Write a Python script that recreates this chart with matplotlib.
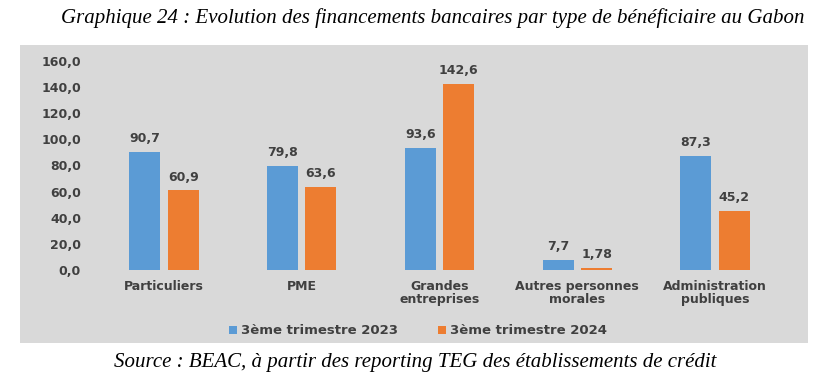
import matplotlib.pyplot as plt
from matplotlib.patches import Rectangle
import numpy as np

# Data
categories = ['Particuliers', 'PME', 'Grandes\nentreprises', 'Autres personnes\nmorales',
              'Administration\npubliques']
t3_2023 = [90.7, 79.8, 93.6, 7.7, 87.3]
t3_2024 = [60.9, 63.6, 142.6, 1.78, 45.2]
labels_2023 = ['90,7', '79,8', '93,6', '7,7', '87,3']
labels_2024 = ['60,9', '63,6', '142,6', '1,78', '45,2']
yticks = [0, 20, 40, 60, 80, 100, 120, 140, 160]

BLUE = '#5B9BD5'
ORANGE = '#ED7D31'
TXT = '#404040'
FONT = 'DejaVu Sans'

fig = plt.figure(figsize=(8.27, 3.72), dpi=100)
fig.patch.set_facecolor('white')

# grey chart area
fig.patches.append(Rectangle((20 / 827, 1 - 343 / 372), 788 / 827, 298 / 372,
                             transform=fig.transFigure, facecolor='#d9d9d9',
                             edgecolor='none', zorder=-10))

ax = fig.add_axes([95 / 827, 1 - 270 / 372, 689 / 827, 209 / 372])
ax.set_facecolor('none')
ax.set_zorder(5)

x = np.arange(len(categories))
w = 0.225
gap = 0.055
b1 = ax.bar(x - (w + gap) / 2, t3_2023, w, color=BLUE, label='3ème trimestre 2023')
b2 = ax.bar(x + (w + gap) / 2, t3_2024, w, color=ORANGE, label='3ème trimestre 2024')

for bars, labs in ((b1, labels_2023), (b2, labels_2024)):
    for rect, lab in zip(bars, labs):
        ax.annotate(lab, (rect.get_x() + rect.get_width() / 2, rect.get_height()),
                    xytext=(0, 5), textcoords='offset points', ha='center', va='bottom',
                    fontsize=9, fontweight='bold', color=TXT, family=FONT)

ax.set_xlim(-0.5, 4.5)
ax.set_ylim(0, 160)
ax.set_yticks(yticks)
ax.set_yticklabels([f'{v:.1f}'.replace('.', ',') for v in yticks],
                   fontsize=9, fontweight='bold', color=TXT, family=FONT)
ax.set_xticks(x)
ax.set_xticklabels(categories, fontsize=9, fontweight='bold', color=TXT, family=FONT,
                   linespacing=1.05)
ax.tick_params(axis='y', length=0, pad=10)
ax.tick_params(axis='x', length=0, pad=7)
for s in ax.spines.values():
    s.set_visible(False)

leg = ax.legend(loc='center', bbox_to_anchor=(418 / 827, 1 - 331 / 372),
                bbox_transform=fig.transFigure, ncol=2, frameon=False,
                prop={'family': FONT, 'weight': 'bold', 'size': 9.5},
                handlelength=0.6, handleheight=0.6, handletextpad=0.3, columnspacing=3.0)
for t in leg.get_texts():
    t.set_color(TXT)

fig.text(433 / 827, 1 - 18 / 372,
         'Graphique 24 : Evolution des financements bancaires par type de bénéficiaire au Gabon',
         ha='center', va='center', fontsize=15, style='italic', family='Liberation Serif')
fig.text(415 / 827, 1 - 367 / 372,
         'Source : BEAC, à partir des reporting TEG des établissements de crédit',
         ha='center', va='baseline', fontsize=15, style='italic', family='Liberation Serif')

fig.savefig('out.png', dpi=100)
